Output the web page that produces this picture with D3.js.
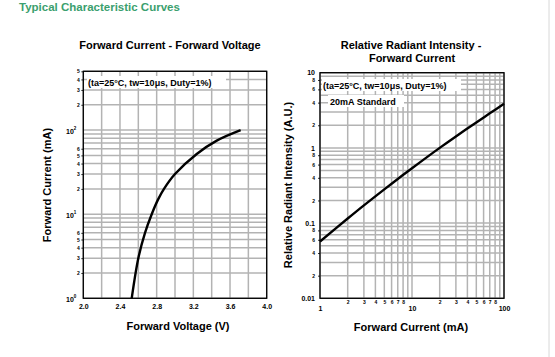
<!DOCTYPE html>
<html><head><meta charset="utf-8">
<script src="https://cdn.jsdelivr.net/npm/d3@7"></script>
<style>
body{margin:0;background:#fff;}
svg{display:block;font-family:"Liberation Sans",Arial,sans-serif;font-weight:bold;}
</style></head><body>
<svg id="c" width="555" height="357"></svg>
<script>
// ---- data ----
const fvVoltage = [2.528, 2.60, 2.673, 2.746, 2.816, 2.88, 3.00, 3.237, 3.455, 3.716];
const fvCurrent = [1, 3, 6, 10, 15, 20, 30, 52, 75, 100];
const fvXTicks = [2.0, 2.4, 2.8, 3.2, 3.6, 4.0];
const fvYMajor = [1, 10, 100];
const fvYExp = ["0", "1", "2"];
const fvYMinor = [2, 3, 4, 5, 6, 20, 30, 40, 50, 60, 200, 300, 400, 500];

const riCurrent = [1, 2, 3, 5, 7, 10, 20, 30, 50, 70, 100];
const riIntensity = [0.057, 0.115, 0.172, 0.281, 0.386, 0.536, 1.0, 1.42, 2.18, 2.88, 3.85];
const riXMajor = [1, 10, 100];
const riXMinor = [2, 3, 4, 5, 6, 7, 8, 20, 30, 40, 50, 60, 70, 80];
const riYMajor = [0.01, 0.1, 1, 10];
const riYMajorLabels = ["0.01", "0.1", "1", "10"];
const riYMinor = [0.02, 0.04, 0.06, 0.08, 0.2, 0.4, 0.6, 0.8, 2, 4, 6, 8];

const svg = d3.select("#c");
const GRID = "#b3b3b3";

function logGrid(lo, hi) {
  const out = [];
  for (let e = Math.floor(Math.log10(lo)); e <= Math.ceil(Math.log10(hi)); e++)
    for (let k = 1; k <= 9; k++) { const v = k * Math.pow(10, e); if (v >= lo * 0.9999 && v <= hi * 1.0001) out.push(v); }
  return out;
}

// header
svg.append("text").attr("x", 19).attr("y", 11).attr("fill", "#3b9f6e").attr("font-size", 11.5).text("Typical Characteristic Curves");
// right page edge line
svg.append("line").attr("x1", 549).attr("x2", 549).attr("y1", 0).attr("y2", 357).attr("stroke", "#d8d8d8").attr("stroke-width", 1);

// ================= Left chart =================
{
  const L = 83.3, R = 266.7, T = 71.3, B = 298.3;
  const x = d3.scaleLinear().domain([2, 4]).range([L, R]);
  const y = d3.scaleLog().domain([1, 500]).range([B, T]);
  const g = svg.append("g");
  const vgrid = d3.range(0, 11).map(i => 2 + i * 0.2);
  g.append("g").selectAll("line").data(vgrid).join("line")
    .attr("x1", d => x(d)).attr("x2", d => x(d)).attr("y1", T).attr("y2", B)
    .attr("stroke", GRID).attr("stroke-width", 1.5);
  g.append("g").selectAll("line").data(logGrid(1, 500)).join("line")
    .attr("y1", d => y(d)).attr("y2", d => y(d)).attr("x1", L).attr("x2", R)
    .attr("stroke", GRID).attr("stroke-width", 1.5);

  // annotation
  const ann = g.append("g");
  ann.append("rect").attr("x", 87).attr("y", 76).attr("width", 139).attr("height", 12).attr("fill", "#fff");
  ann.append("text").attr("x", 88).attr("y", 86).attr("font-size", 9).text("(ta=25°C, tw=10μs, Duty=1%)");

  // curve
  const pts = fvVoltage.map((v, i) => [v, fvCurrent[i]]);
  g.append("path").datum(pts)
    .attr("d", d3.line().x(d => x(d[0])).y(d => y(d[1])).curve(d3.curveCatmullRom.alpha(0.5)))
    .attr("fill", "none").attr("stroke", "#000").attr("stroke-width", 2.4);

  g.append("rect").attr("x", L).attr("y", T).attr("width", R - L).attr("height", B - T)
    .attr("fill", "none").attr("stroke", "#000").attr("stroke-width", 1.3);

  // x axis
  const xa = g.append("g").attr("transform", `translate(0,${B})`)
    .call(d3.axisBottom(x).tickValues(fvXTicks).tickFormat(d3.format(".1f")).tickSize(0).tickPadding(6));
  xa.select(".domain").remove();
  xa.selectAll("text").attr("font-size", 7).attr("font-family", null).attr("fill", "#000");

  // y major
  const ya = g.append("g").attr("transform", `translate(${L},0)`)
    .call(d3.axisLeft(y).tickValues(fvYMajor).tickFormat(() => "").tickSize(0).tickPadding(4));
  ya.select(".domain").remove();
  ya.selectAll(".tick").each(function(d, i) {
    const t = d3.select(this).select("text").attr("font-size", 7).attr("font-family", null).attr("fill", "#000").attr("x", -7).attr("dy", "0.45em");
    t.append("tspan").text("10");
    t.append("tspan").attr("font-size", 4.5).attr("dy", "-0.9em").text(fvYExp[i]);
  });
  // y minor
  const ym = g.append("g").attr("transform", `translate(${L},0)`)
    .call(d3.axisLeft(y).tickValues(fvYMinor).tickFormat(d => String(d).charAt(0)).tickSize(2).tickPadding(1.5));
  ym.select(".domain").remove();
  ym.selectAll("line").attr("stroke", "#000").attr("stroke-width", 0.8);
  ym.selectAll("text").attr("font-size", 5).attr("font-family", null).attr("fill", "#000");

  // titles
  g.append("text").attr("x", 170).attr("y", 49).attr("text-anchor", "middle").attr("font-size", 11).text("Forward Current - Forward Voltage");
  g.append("text").attr("x", 178).attr("y", 330).attr("text-anchor", "middle").attr("font-size", 11).text("Forward Voltage (V)");
  g.append("text").attr("transform", "translate(51,185) rotate(-90)").attr("text-anchor", "middle").attr("font-size", 11).text("Forward Current (mA)");
}

// ================= Right chart =================
{
  const L = 320, R = 504, T = 72.7, B = 298.3;
  const x = d3.scaleLog().domain([1, 100]).range([L, R]);
  const y = d3.scaleLog().domain([0.01, 10]).range([B, T]);
  const g = svg.append("g");
  g.append("g").selectAll("line").data(logGrid(1, 100)).join("line")
    .attr("x1", d => x(d)).attr("x2", d => x(d)).attr("y1", T).attr("y2", B)
    .attr("stroke", GRID).attr("stroke-width", 1.5);
  g.append("g").selectAll("line").data(logGrid(0.01, 10)).join("line")
    .attr("y1", d => y(d)).attr("y2", d => y(d)).attr("x1", L).attr("x2", R)
    .attr("stroke", GRID).attr("stroke-width", 1.5);

  const ann = g.append("g");
  ann.append("rect").attr("x", 322).attr("y", 79).attr("width", 139).attr("height", 12).attr("fill", "#fff");
  ann.append("text").attr("x", 323).attr("y", 89).attr("font-size", 9).text("(ta=25°C, tw=10μs, Duty=1%)");
  ann.append("rect").attr("x", 328).attr("y", 95).attr("width", 76).attr("height", 12).attr("fill", "#fff");
  ann.append("text").attr("x", 330).attr("y", 105).attr("font-size", 9).text("20mA Standard");

  const pts = riCurrent.map((v, i) => [v, riIntensity[i]]);
  g.append("path").datum(pts)
    .attr("d", d3.line().x(d => x(d[0])).y(d => y(d[1])).curve(d3.curveCatmullRom.alpha(0.5)))
    .attr("fill", "none").attr("stroke", "#000").attr("stroke-width", 2.4);

  g.append("rect").attr("x", L).attr("y", T).attr("width", R - L).attr("height", B - T)
    .attr("fill", "none").attr("stroke", "#000").attr("stroke-width", 1.3);

  const xa = g.append("g").attr("transform", `translate(0,${B})`)
    .call(d3.axisBottom(x).tickValues(riXMajor).tickFormat(d3.format("d")).tickSize(0).tickPadding(8));
  xa.select(".domain").remove();
  xa.selectAll("text").attr("font-size", 7).attr("font-family", null).attr("fill", "#000");
  const xm = g.append("g").attr("transform", `translate(0,${B})`)
    .call(d3.axisBottom(x).tickValues(riXMinor).tickFormat(d => String(d).charAt(0)).tickSize(0).tickPadding(2));
  xm.select(".domain").remove();
  xm.selectAll("text").attr("font-size", 5).attr("font-family", null).attr("fill", "#000");

  const ya = g.append("g").attr("transform", `translate(${L},0)`)
    .call(d3.axisLeft(y).tickValues(riYMajor).tickFormat((d, i) => riYMajorLabels[i]).tickSize(0).tickPadding(5));
  ya.select(".domain").remove();
  ya.selectAll("text").attr("font-size", 7).attr("font-family", null).attr("fill", "#000");
  const ym = g.append("g").attr("transform", `translate(${L},0)`)
    .call(d3.axisLeft(y).tickValues(riYMinor).tickFormat(d => String(d).replace(/[0.]/g, "").charAt(0)).tickSize(2).tickPadding(3));
  ym.select(".domain").remove();
  ym.selectAll("line").attr("stroke", "#000").attr("stroke-width", 0.8);
  ym.selectAll("text").attr("font-size", 5).attr("font-family", null).attr("fill", "#000");

  g.append("text").attr("x", 411).attr("y", 49).attr("text-anchor", "middle").attr("font-size", 11).text("Relative Radiant Intensity -");
  g.append("text").attr("x", 412).attr("y", 62).attr("text-anchor", "middle").attr("font-size", 11).text("Forward Current");
  g.append("text").attr("x", 411).attr("y", 331).attr("text-anchor", "middle").attr("font-size", 11).text("Forward Current (mA)");
  g.append("text").attr("transform", "translate(292,185) rotate(-90)").attr("text-anchor", "middle").attr("font-size", 11).text("Relative Radiant Intensity (A.U.)");
}
</script></body></html>
